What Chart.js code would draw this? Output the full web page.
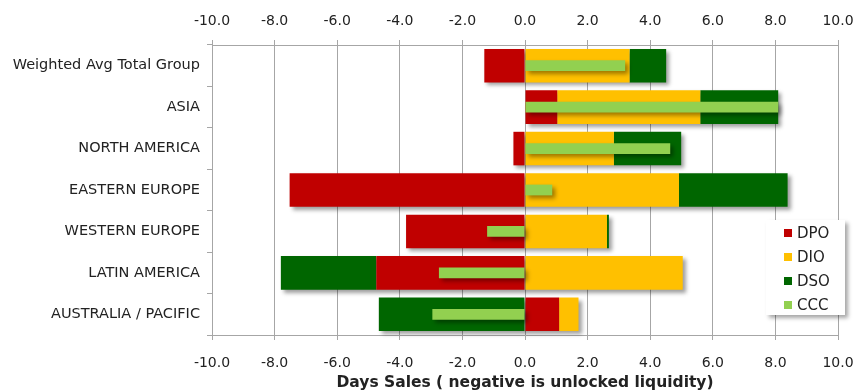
<!DOCTYPE html>
<html>
<head>
<meta charset="utf-8">
<script src="https://cdn.jsdelivr.net/npm/chart.js@4/dist/chart.umd.min.js"></script>
<style>
    html, body { margin: 0; padding: 0; background: #fff; }
    #wrap { position: relative; width: 856px; height: 391px; }
</style>
</head>
<body>
<div id="wrap"><canvas id="chart" width="856" height="391"></canvas></div>
<script>
const categories = [
    'Weighted Avg Total Group',
    'ASIA',
    'NORTH AMERICA',
    'EASTERN EUROPE',
    'WESTERN EUROPE',
    'LATIN AMERICA',
    'AUSTRALIA / PACIFIC'
]
const dpo = [-1.30, 1.03, -0.37, -7.52, -3.80, -4.75, 1.09]
const dio = [3.34, 4.57, 2.84, 4.92, 2.62, 5.04, 0.62]
const dso = [1.17, 2.49, 2.15, 3.47, 0.06, -3.05, -4.67]
const ccc = [3.20, 8.09, 4.64, 0.87, -1.21, -2.75, -2.96]
const xTicks = [-10, -8, -6, -4, -2, 0, 2, 4, 6, 8, 10]
const axisTitle = 'Days Sales ( negative is unlocked liquidity)'

const FONT = "'DejaVu Sans', Verdana, sans-serif"
const GRID = '#a6a6a6'
const TEXT = '#222222'

function fixedTicks(scale) {
    scale.ticks = xTicks.map(v => ({ value: v }))
}

// keep the plot edges where the reference has them (labels may overhang)
function noOverhang(scale, h) {
    scale.height = h
    scale.paddingLeft = 0
    scale.paddingRight = 0
}

const shadowPlugin = {
    id: 'barShadows',
    beforeDatasetDraw(chart, args) {
        const ctx = chart.ctx
        const drawShadow = (x0, x1, top, h) => {
            ctx.save()
            ctx.shadowColor = 'rgba(0, 0, 0, 0.38)'
            ctx.shadowBlur = 4
            ctx.shadowOffsetX = 10000 + 3
            ctx.shadowOffsetY = 3
            ctx.fillStyle = '#000'
            ctx.fillRect(x0 - 10000, top, x1 - x0, h)
            ctx.restore()
        }
        // the main stack is drawn starting with DSO (index 2), CCC last
        if (args.index === 2) {
            categories.forEach((c, i) => {
                let lo = Infinity, hi = -Infinity, top = 0, h = 0
                for (const ds of [0, 1, 2]) {
                    const el = chart.getDatasetMeta(ds).data[i]
                    const p = el.getProps(['x', 'y', 'base', 'height'], true)
                    lo = Math.min(lo, p.x, p.base)
                    hi = Math.max(hi, p.x, p.base)
                    top = p.y - p.height / 2
                    h = p.height
                }
                drawShadow(lo, hi, top, h)
            })
        }
        if (args.index === 3) {
            chart.getDatasetMeta(3).data.forEach(el => {
                const p = el.getProps(['x', 'y', 'base', 'height'], true)
                drawShadow(Math.min(p.x, p.base), Math.max(p.x, p.base), p.y - p.height / 2, p.height)
            })
        }
    },
    afterDraw(chart) {
        const ctx = chart.ctx
        const area = chart.chartArea
        const bx = area.right - 72
        const by = 220
        const bw = 79
        const bh = 95
        ctx.save()
        ctx.shadowColor = 'rgba(0, 0, 0, 0.35)'
        ctx.shadowBlur = 4
        ctx.shadowOffsetX = 3
        ctx.shadowOffsetY = 3
        ctx.fillStyle = '#ffffff'
        ctx.fillRect(bx, by, bw, bh)
        ctx.restore()

        ctx.save()
        ctx.font = `15px ${FONT}`
        ctx.textBaseline = 'middle'
        chart.data.datasets.forEach((ds, i) => {
            const cy = by + 13 + i * 24
            ctx.fillStyle = ds.backgroundColor
            ctx.fillRect(bx + 18, cy - 4, 8, 8)
            ctx.fillStyle = TEXT
            ctx.fillText(ds.label, bx + 31, cy + 1)
        })
        ctx.restore()
    }
}

new Chart(document.getElementById('chart'), {
    type: 'bar',
    data: {
        labels: categories,
        datasets: [
            { label: 'DPO', data: dpo, backgroundColor: '#c00000', stack: 'main', order: 1, barPercentage: 0.81, categoryPercentage: 1 },
            { label: 'DIO', data: dio, backgroundColor: '#ffc000', stack: 'main', order: 1, barPercentage: 0.81, categoryPercentage: 1 },
            { label: 'DSO', data: dso, backgroundColor: '#006600', stack: 'main', order: 1, barPercentage: 0.81, categoryPercentage: 1 },
            { label: 'CCC', data: ccc, backgroundColor: '#92d050', stack: 'ccc', order: 0, grouped: false, barPercentage: 0.26, categoryPercentage: 1 }
        ]
    },
    options: {
        indexAxis: 'y',
        responsive: false,
        animation: false,
        layout: { padding: { left: 0, right: 18, top: 0, bottom: 0 } },
        plugins: {
            legend: { display: false },
            tooltip: { enabled: false }
        },
        scales: {
            x: {
                type: 'linear',
                position: 'bottom',
                stacked: true,
                min: -10,
                max: 10,
                afterBuildTicks: fixedTicks,
                afterFit(scale) { noOverhang(scale, 56) },
                grid: { color: GRID, lineWidth: 1, tickLength: 5, drawOnChartArea: true },
                border: { display: true, color: GRID },
                ticks: {
                    color: TEXT,
                    padding: 15,
                    font: { family: FONT, size: 14 },
                    callback: v => Number(v).toFixed(1)
                },
                title: {
                    display: true,
                    text: axisTitle,
                    color: TEXT,
                    padding: { top: 0, bottom: 0 },
                    font: { family: FONT, size: 15.5, weight: 'bold', lineHeight: 1 }
                }
            },
            xTop: {
                type: 'linear',
                position: 'top',
                min: -10,
                max: 10,
                afterBuildTicks: fixedTicks,
                afterFit(scale) { noOverhang(scale, 45) },
                grid: { color: GRID, lineWidth: 1, tickLength: 5, drawOnChartArea: false },
                border: { display: true, color: GRID },
                ticks: {
                    color: TEXT,
                    padding: 10,
                    font: { family: FONT, size: 14 },
                    callback: v => Number(v).toFixed(1)
                }
            },
            y: {
                stacked: true,
                afterFit(scale) { scale.width = 212 },
                grid: { color: GRID, drawOnChartArea: false, tickLength: 5, offset: true },
                border: { display: true, color: GRID },
                ticks: {
                    color: TEXT,
                    padding: 7,
                    font: { family: FONT, size: 14.5 }
                }
            }
        }
    },
    plugins: [shadowPlugin]
})
</script>
</body>
</html>
